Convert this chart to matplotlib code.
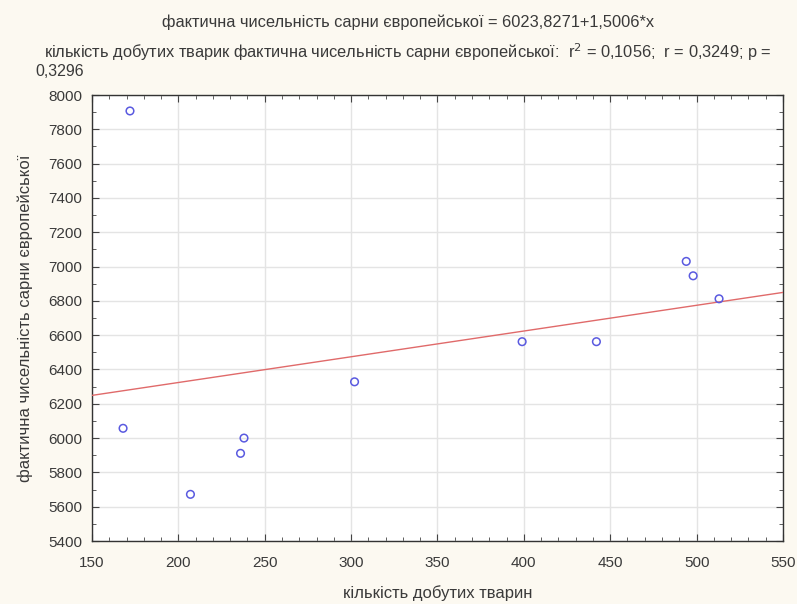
import numpy as np
import matplotlib
matplotlib.use('Agg')
import matplotlib.pyplot as plt
from matplotlib.ticker import MultipleLocator

plt.rcParams['font.family'] = ['Liberation Sans', 'DejaVu Sans']

# кількість добутих тварин / фактична чисельність сарни європейської
harvested = [172, 168, 207, 236, 238, 302, 399, 442, 494, 498, 513]
population = [7907, 6057, 5672, 5911, 6000, 6328, 6562, 6562, 7030, 6946, 6812]

intercept = 6023.8271
slope = 1.5006

title_1 = 'фактична чисельність сарни європейської = 6023,8271+1,5006*x'
title_2 = ('кількість добутих тварик фактична чисельність сарни європейської:  '
           'r$^2$ = 0,1056;  r = 0,3249; p =')
title_3 = '0,3296'
x_label = 'кількість добутих тварин'
y_label = 'фактична чисельність сарни європейської'

txt_color = '#3a3a3a'

fig = plt.figure(figsize=(7.97, 6.04), dpi=100, facecolor='#fcf9f1')
ax = fig.add_axes([0.1154, 0.1043, 0.867, 0.7384])
ax.set_facecolor('white')

# fitted line across the whole x range
xs = np.array([150, 550])
ax.plot(xs, intercept + slope * xs, color='#e06a6a', lw=1.0, zorder=3)

ax.scatter(harvested, population, s=30, facecolors='none',
           edgecolors='#5a5ae0', linewidths=1.1, zorder=4)

ax.set_xlim(150, 550)
ax.set_ylim(5400, 8000)
ax.xaxis.set_major_locator(MultipleLocator(50))
ax.xaxis.set_minor_locator(MultipleLocator(10))
ax.yaxis.set_major_locator(MultipleLocator(200))
ax.yaxis.set_minor_locator(MultipleLocator(100))
ax.tick_params(which='both', direction='in', top=True, right=True,
               color='#444444', labelsize=11, labelcolor=txt_color)
ax.tick_params(which='major', length=5)
ax.tick_params(which='minor', length=3)
ax.tick_params(axis='x', pad=11)
ax.tick_params(axis='y', pad=7)
ax.grid(True, which='major', color='#e4e4e4', lw=1.0)
ax.set_axisbelow(True)
for sp in ax.spines.values():
    sp.set_color('#333333')
    sp.set_linewidth(1.0)

ax.set_xlabel(x_label, fontsize=12, color=txt_color)
ax.set_ylabel(y_label, fontsize=12, color=txt_color)
ax.xaxis.set_label_coords(0.5, -0.1166)
ax.xaxis.label.set_va('center')
ax.yaxis.set_label_coords(-0.097, 0.5)
ax.yaxis.label.set_va('center')

fig.text(408 / 797, 1 - 22 / 604, title_1, ha='center', va='center',
         fontsize=11.8, color=txt_color)
fig.text(408 / 797, 1 - 52 / 604, title_2, ha='center', va='center',
         fontsize=11.8, color=txt_color)
fig.text(35 / 797, 1 - 72 / 604, title_3, ha='left', va='center',
         fontsize=11.5, color=txt_color)

fig.savefig('out.png', dpi=100, facecolor=fig.get_facecolor())
